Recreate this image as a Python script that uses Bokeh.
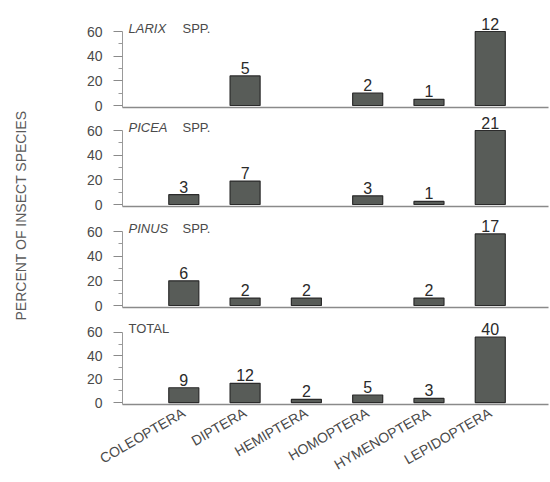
import math
from bokeh.plotting import figure
from bokeh.models import Range1d, FixedTicker, Label, ColumnDataSource
from bokeh.layouts import column, row
from bokeh.core.properties import value
from bokeh.embed import file_html
from bokeh.resources import INLINE

# ---------------- data ----------------
categories = ["COLEOPTERA", "DIPTERA", "HEMIPTERA", "HOMOPTERA", "HYMENOPTERA", "LEPIDOPTERA"]

larix_pct = [None, 24, None, 10, 5, 60]
larix_n = [None, 5, None, 2, 1, 12]

picea_pct = [8, 19, None, 7, 2.5, 60]
picea_n = [3, 7, None, 3, 1, 21]

pinus_pct = [20, 6, 6, None, 6, 58]
pinus_n = [6, 2, 2, None, 2, 17]

total_pct = [12.7, 16.5, 2.7, 6.5, 3.6, 56]
total_n = [9, 12, 2, 5, 3, 40]

panel_names = [("LARIX", "SPP."), ("PICEA", "SPP."), ("PINUS", "SPP."), (None, "TOTAL")]
y_ticks = [0, 20, 40, 60]
y_minor = [10, 30, 50]
y_label = "PERCENT OF INSECT SPECIES"

# ---------------- style ----------------
FONT = "Liberation Sans"
S = 74.0 / 60.0           # pixels per percent
BAR_FILL = "#585c58"
BAR_LINE = "#2b2b2b"
AXIS_COL = "#8a8a8a"
TEXT_COL = "#4a4a4a"
NUM_COL = "#2a2a2a"

# (canvas height, frame height, bottom border)
geoms = [(113, 107, 6), (99, 93, 6), (101, 95, 6), (169, 96, 73)]
series = [(larix_pct, larix_n), (picea_pct, picea_n), (pinus_pct, pinus_n), (total_pct, total_n)]

figs = []
for k, ((pct, cnt), (H, FH, BB), (it, rest)) in enumerate(zip(series, geoms, panel_names)):
    p = figure(width=510, height=H, output_backend="svg", toolbar_location=None,
               x_range=Range1d(-1.0, 5.95),
               y_range=Range1d(-2.0 / S, (FH - 2.0) / S),
               min_border_left=82, min_border_right=2, min_border_top=0,
               min_border_bottom=BB)
    p.outline_line_color = None
    p.grid.visible = False
    p.background_fill_color = "white"
    p.border_fill_color = "white"

    xs = [i for i, v in enumerate(pct) if v is not None]
    tops = [pct[i] for i in xs]
    labs = [str(cnt[i]) for i in xs]
    src = ColumnDataSource(dict(x=xs, top=tops, lab=labs))
    p.vbar(x="x", top="top", bottom=0, width=0.49, source=src,
           fill_color=BAR_FILL, line_color=BAR_LINE, line_width=1.2)
    p.text(x="x", y="top", text="lab", source=src, text_align="center",
           text_baseline="bottom", y_offset=-2, text_font=value(FONT),
           text_font_size="16px", text_color=NUM_COL)

    # y axis
    ya = p.yaxis[0]
    ya.ticker = FixedTicker(ticks=y_ticks, minor_ticks=y_minor)
    ya.bounds = (-2.0 / S, 60)
    ya.axis_line_color = "#9a9a9a"
    ya.axis_line_width = 1
    ya.major_tick_out = 9
    ya.major_tick_in = 0
    ya.minor_tick_out = 4
    ya.minor_tick_in = 0
    ya.major_tick_line_color = "#8a8a8a"
    ya.minor_tick_line_color = "#9a9a9a"
    ya.major_label_standoff = 11
    ya.major_label_text_font = FONT
    ya.major_label_text_font_size = "14px"
    ya.major_label_text_color = TEXT_COL

    # x axis (baseline)
    xa = p.xaxis[0]
    xa.axis_line_color = AXIS_COL
    xa.axis_line_width = 1.5
    xa.major_tick_line_color = None
    xa.minor_tick_line_color = None
    xa.major_tick_out = 0
    xa.major_tick_in = 0
    if k < 3:
        xa.ticker = FixedTicker(ticks=[])
        xa.major_label_standoff = 0
    else:
        xa.ticker = FixedTicker(ticks=list(range(len(categories))))
        xa.major_label_overrides = {i: c for i, c in enumerate(categories)}
        xa.major_label_orientation = math.pi / 6
        xa.major_label_standoff = 7
        xa.major_label_text_font = FONT
        xa.major_label_text_font_size = "14px"
        xa.major_label_text_color = TEXT_COL

    # panel title
    if it is not None:
        p.add_layout(Label(x=-1.0, y=60, x_offset=6, y_offset=-4, text=it, text_font=FONT,
                           text_font_style="italic", text_font_size="13px",
                           text_color=TEXT_COL, text_baseline="bottom"))
        p.add_layout(Label(x=-1.0, y=60, x_offset=60, y_offset=-4, text=rest,
                           text_font=FONT, text_font_size="13px",
                           text_color=TEXT_COL, text_baseline="bottom"))
    else:
        p.add_layout(Label(x=-1.0, y=60, x_offset=6, y_offset=-4, text=rest, text_font=FONT,
                           text_font_size="13px", text_color=TEXT_COL,
                           text_baseline="bottom"))
    figs.append(p)

# left strip for the shared y label
lf = figure(width=40, height=482, output_backend="svg", toolbar_location=None,
            x_range=Range1d(0, 40), y_range=Range1d(0, 482), min_border=0)
lf.outline_line_color = None
lf.grid.visible = False
lf.axis.visible = False
lf.add_layout(Label(x=20, y=482 - 215, text=y_label, angle=math.pi / 2,
                    text_align="center", text_baseline="middle", text_font=FONT,
                    text_font_size="14px", text_color="#5a5a5a"))

layout = row(lf, column(*figs, spacing=0), spacing=0)
open("out.html", "w").write(file_html(layout, INLINE))
